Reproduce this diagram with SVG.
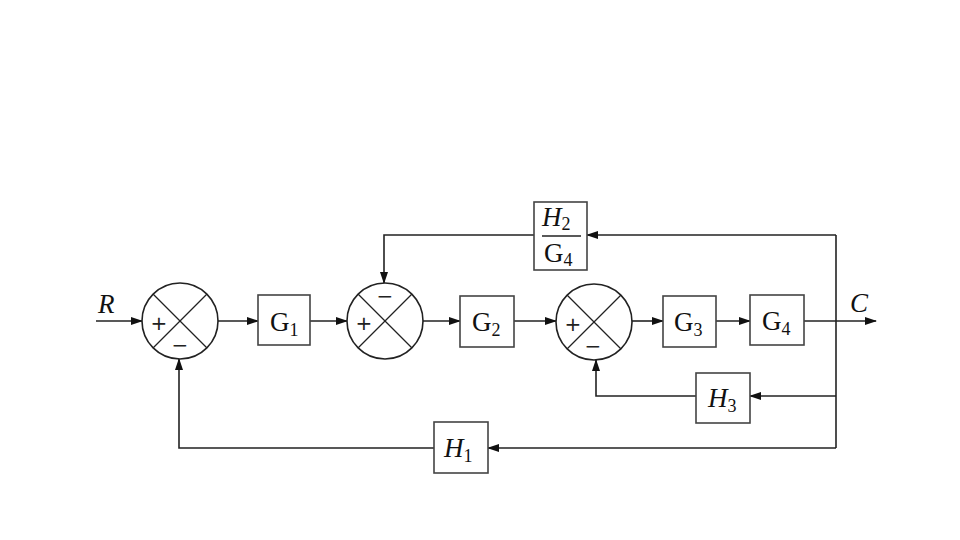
<svg xmlns="http://www.w3.org/2000/svg" width="960" height="540" viewBox="0 0 960 540">
<defs>
<marker id="ah" markerWidth="12" markerHeight="8" refX="11" refY="4" orient="auto" markerUnits="userSpaceOnUse">
<path d="M0,0 L12,4 L0,8 Z" fill="#111"/>
</marker>
</defs>
<style>
.ln{fill:none;stroke:#222;stroke-width:1.6}
.bx{fill:#fff;stroke:#444;stroke-width:1.6}
.sj{fill:#fff;stroke:#222;stroke-width:1.6}
.x{stroke:#222;stroke-width:1.3}
.t{font-family:"Liberation Serif","DejaVu Serif",serif;font-size:27px;fill:#111}
.it{font-style:italic}
.sub{font-size:18px}
.sg{font-family:"DejaVu Sans","Liberation Sans",sans-serif;font-size:20px;fill:#222;text-anchor:middle}
</style>
<rect width="960" height="540" fill="#fff"/>
<g id="connectors">
<line class="ln" x1="96" y1="321" x2="142" y2="321" marker-end="url(#ah)"/>
<line class="ln" x1="218" y1="321" x2="258" y2="321" marker-end="url(#ah)"/>
<line class="ln" x1="310" y1="321" x2="347" y2="321" marker-end="url(#ah)"/>
<line class="ln" x1="423" y1="321" x2="460" y2="321" marker-end="url(#ah)"/>
<line class="ln" x1="514" y1="321" x2="556" y2="321" marker-end="url(#ah)"/>
<line class="ln" x1="632" y1="321" x2="663" y2="321" marker-end="url(#ah)"/>
<line class="ln" x1="716" y1="321" x2="750" y2="321" marker-end="url(#ah)"/>
<line class="ln" x1="804" y1="321" x2="876" y2="321" marker-end="url(#ah)"/>
<line class="ln" x1="836" y1="235" x2="836" y2="448"/>
<line class="ln" x1="836" y1="235" x2="587" y2="235" marker-end="url(#ah)"/>
<polyline class="ln" points="534,235 384,235 384,283" marker-end="url(#ah)"/>
<line class="ln" x1="836" y1="396" x2="750" y2="396" marker-end="url(#ah)"/>
<polyline class="ln" points="696,396 596,396 596,360" marker-end="url(#ah)"/>
<line class="ln" x1="836" y1="448" x2="488" y2="448" marker-end="url(#ah)"/>
<polyline class="ln" points="434,448 179,448 179,359" marker-end="url(#ah)"/>
</g>
<g id="R"><text class="t it" x="98" y="313">R</text></g>
<g id="C"><text class="t it" x="850" y="312">C</text></g>
<g id="sum1">
<circle class="sj" cx="180" cy="321" r="38"/>
<line class="x" x1="153" y1="294" x2="207" y2="348"/>
<line class="x" x1="207" y1="294" x2="153" y2="348"/>
<text class="sg" x="159" y="330">+</text>
<text class="sg" x="180" y="352">−</text>
</g>
<g id="G1">
<rect class="bx" x="258" y="295" width="52" height="50"/>
<text class="t" x="270" y="331">G<tspan class="sub" dy="5">1</tspan></text>
</g>
<g id="sum2">
<circle class="sj" cx="385" cy="321" r="38"/>
<line class="x" x1="358" y1="294" x2="412" y2="348"/>
<line class="x" x1="412" y1="294" x2="358" y2="348"/>
<text class="sg" x="364" y="330">+</text>
<text class="sg" x="385" y="303">−</text>
</g>
<g id="G2">
<rect class="bx" x="460" y="296" width="54" height="51"/>
<text class="t" x="472" y="331">G<tspan class="sub" dy="5">2</tspan></text>
</g>
<g id="sum3">
<circle class="sj" cx="594" cy="322" r="38"/>
<line class="x" x1="567" y1="295" x2="621" y2="349"/>
<line class="x" x1="621" y1="295" x2="567" y2="349"/>
<text class="sg" x="573" y="331">+</text>
<text class="sg" x="593" y="353">−</text>
</g>
<g id="G3">
<rect class="bx" x="663" y="296" width="53" height="51"/>
<text class="t" x="674" y="331">G<tspan class="sub" dy="5">3</tspan></text>
</g>
<g id="G4">
<rect class="bx" x="750" y="295" width="54" height="50"/>
<text class="t" x="762" y="330">G<tspan class="sub" dy="5">4</tspan></text>
</g>
<g id="H2G4">
<rect class="bx" x="534" y="202" width="53" height="68"/>
<text class="t it" x="542" y="226">H<tspan class="sub" font-style="normal" dy="4">2</tspan></text>
<line x1="542" y1="236" x2="581" y2="236" stroke="#222" stroke-width="1.4"/>
<text class="t" x="544" y="262">G<tspan class="sub" dy="4">4</tspan></text>
</g>
<g id="H3">
<rect class="bx" x="696" y="373" width="54" height="50"/>
<text class="t it" x="708" y="407">H<tspan class="sub" font-style="normal" dy="5">3</tspan></text>
</g>
<g id="H1">
<rect class="bx" x="434" y="422" width="54" height="51"/>
<text class="t it" x="444" y="457">H<tspan class="sub" font-style="normal" dy="5">1</tspan></text>
</g>
</svg>
